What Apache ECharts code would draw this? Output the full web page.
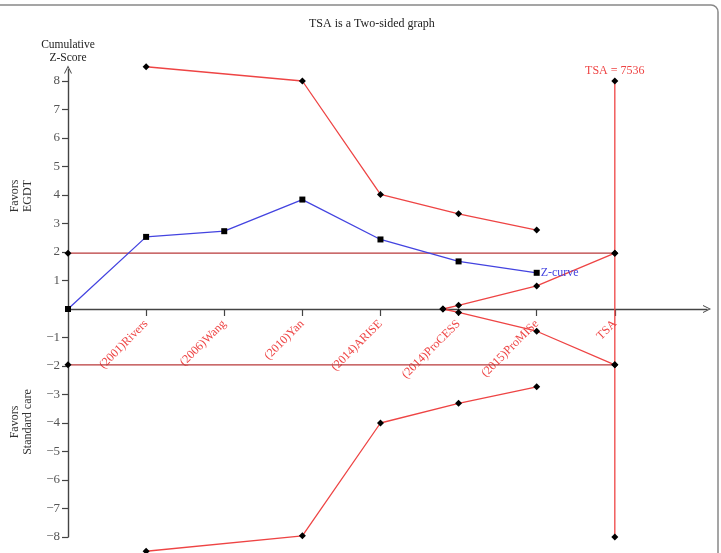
<!DOCTYPE html>
<html>
<head>
<meta charset="utf-8">
<script src="https://cdn.jsdelivr.net/npm/echarts@6/dist/echarts.min.js"></script>
<style>html,body{margin:0;padding:0;background:#fff}#c{width:721px;height:553px}</style>
</head>
<body>
<div id="c"></div>
<script>
const categories = ['(2001)Rivers','(2006)Wang','(2010)Yan','(2014)ARISE','(2014)ProCESS','(2015)ProMISe','TSA'];
const categoryX = [1,2,3,4,5,6,7];
const zX = [0,1,2,3,4,5,6];
const zValues = [0,2.53,2.73,3.84,2.44,1.67,1.27];
const boundaryX = [1,3,4,5,6];
const upperBoundary = [8.5,8.0,4.02,3.34,2.77];
const lowerBoundary = [-8.5,-7.96,-4.0,-3.31,-2.73];
const futilityX = [4.8,5,6,7];
const upperFutility = [0,0.13,0.81,1.96];
const lowerFutility = [0,-0.12,-0.78,-1.96];
const conventionalX = [0,7];
const conventionalZ = 1.96;
const tsaX = 7;
const tsaRange = [-8,8];
const tsaLabel = 'TSA = 7536';
const yTickValues = [-8,-7,-6,-5,-4,-3,-2,-1,1,2,3,4,5,6,7,8];

const FONT = 'Liberation Serif';
const RED = '#ee4444';
const DARKRED = '#b8393a';
const BLUE = '#4343e0';
const AXIS = '#444';
const chevron = 'path://M0,10 L5,0 L10,10 L8.8,10 L5,2.4 L1.2,10 Z';

const Y_MIN = -8, Y_MAX = 8.4;
const GRID_TOP = 69.6, GRID_BOTTOM = 16, H = 553;
const unitPx = (H - GRID_TOP - GRID_BOTTOM) / (Y_MAX - Y_MIN);
const zeroOffset = -(0 - Y_MIN) * unitPx;

const zip = (xs, ys) => xs.map((x, i) => [x, ys[i]]);

function lineSeries(name, data, color, symbol, extra) {
  return Object.assign({
    name, type: 'line', data, clip: false,
    symbol, symbolSize: symbol === 'rect' ? 6 : 7,
    lineStyle: { color, width: 1.3 },
    itemStyle: { color: '#000' },
    z: 3
  }, extra || {});
}

const chart = echarts.init(document.getElementById('c'), null, { renderer: 'canvas' });
chart.setOption({
  animation: false,
  backgroundColor: '#fff',
  title: {
    text: 'TSA is a Two-sided graph', left: 304, top: 13,
    textStyle: { fontFamily: FONT, fontSize: 12, fontWeight: 'normal', color: '#222' }
  },
  grid: { left: 68, right: 14, top: GRID_TOP, bottom: GRID_BOTTOM, containLabel: false, outerBoundsMode: 'none' },
  xAxis: {
    type: 'value', min: 0, max: 8.18, position: 'bottom', offset: zeroOffset,
    axisLine: { onZero: false, symbol: ['none', chevron], symbolSize: [13, 8], lineStyle: { color: AXIS, width: 1.4 } },
    axisTick: { show: true, length: 7, customValues: categoryX, lineStyle: { color: AXIS, width: 1.2 } },
    axisLabel: {
      customValues: categoryX, rotate: 45, margin: 13,
      formatter: v => categories[Math.round(v) - 1] || '',
      color: RED, fontFamily: FONT, fontSize: 12
    },
    splitLine: { show: false }
  },
  yAxis: {
    type: 'value', min: Y_MIN, max: Y_MAX,
    name: 'Cumulative\nZ-Score', nameLocation: 'end', nameGap: 5,
    nameTextStyle: { fontFamily: FONT, fontSize: 11.5, color: '#222', align: 'center', lineHeight: 13 },
    axisLine: { show: true, onZero: false, symbol: ['none', chevron], symbolSize: [13, 8], lineStyle: { color: AXIS, width: 1.4 } },
    axisTick: { show: true, length: 6, customValues: yTickValues, lineStyle: { color: AXIS, width: 1.2 } },
    axisLabel: { customValues: yTickValues, margin: 8, color: '#555', fontFamily: FONT, fontSize: 13,
      formatter: v => String(v).replace('-', '\u2212') },
    splitLine: { show: false }
  },
  graphic: [
    { type: 'rect', shape: { x: -10, y: 5, width: 728, height: 600, r: 7 }, style: { fill: 'none', stroke: '#888', lineWidth: 1.5 }, silent: true },
    { type: 'text', x: 21, y: 196, rotation: Math.PI / 2,
      style: { text: 'Favors\nEGDT', fontFamily: FONT, fontSize: 12, fill: '#333', align: 'center', verticalAlign: 'middle', lineHeight: 13 } },
    { type: 'text', x: 21, y: 422, rotation: Math.PI / 2,
      style: { text: 'Favors\nStandard care', fontFamily: FONT, fontSize: 12, fill: '#333', align: 'center', verticalAlign: 'middle', lineHeight: 13 } }
  ],
  series: [
    lineSeries('conv-upper', conventionalX.map(x => [x, conventionalZ]), DARKRED, 'diamond'),
    lineSeries('conv-lower', conventionalX.map(x => [x, -conventionalZ]), DARKRED, 'diamond'),
    lineSeries('tsa', tsaRange.map(y => [tsaX, y]), RED, 'diamond', {
      label: { show: true, position: 'top', distance: 1, formatter: p => p.value[1] > 0 ? tsaLabel : '', color: RED, fontFamily: FONT, fontSize: 12 }
    }),
    lineSeries('upper-boundary', zip(boundaryX, upperBoundary), RED, 'diamond'),
    lineSeries('lower-boundary', zip(boundaryX, lowerBoundary), RED, 'diamond'),
    lineSeries('upper-futility', zip(futilityX, upperFutility), RED, 'diamond'),
    lineSeries('lower-futility', zip(futilityX, lowerFutility), RED, 'diamond'),
    lineSeries('Z-curve', zip(zX, zValues), BLUE, 'rect', {
      z: 4,
      endLabel: { show: true, formatter: 'Z-curve', color: BLUE, fontFamily: FONT, fontSize: 12, distance: 4 }
    })
  ]
});
</script>
</body>
</html>
